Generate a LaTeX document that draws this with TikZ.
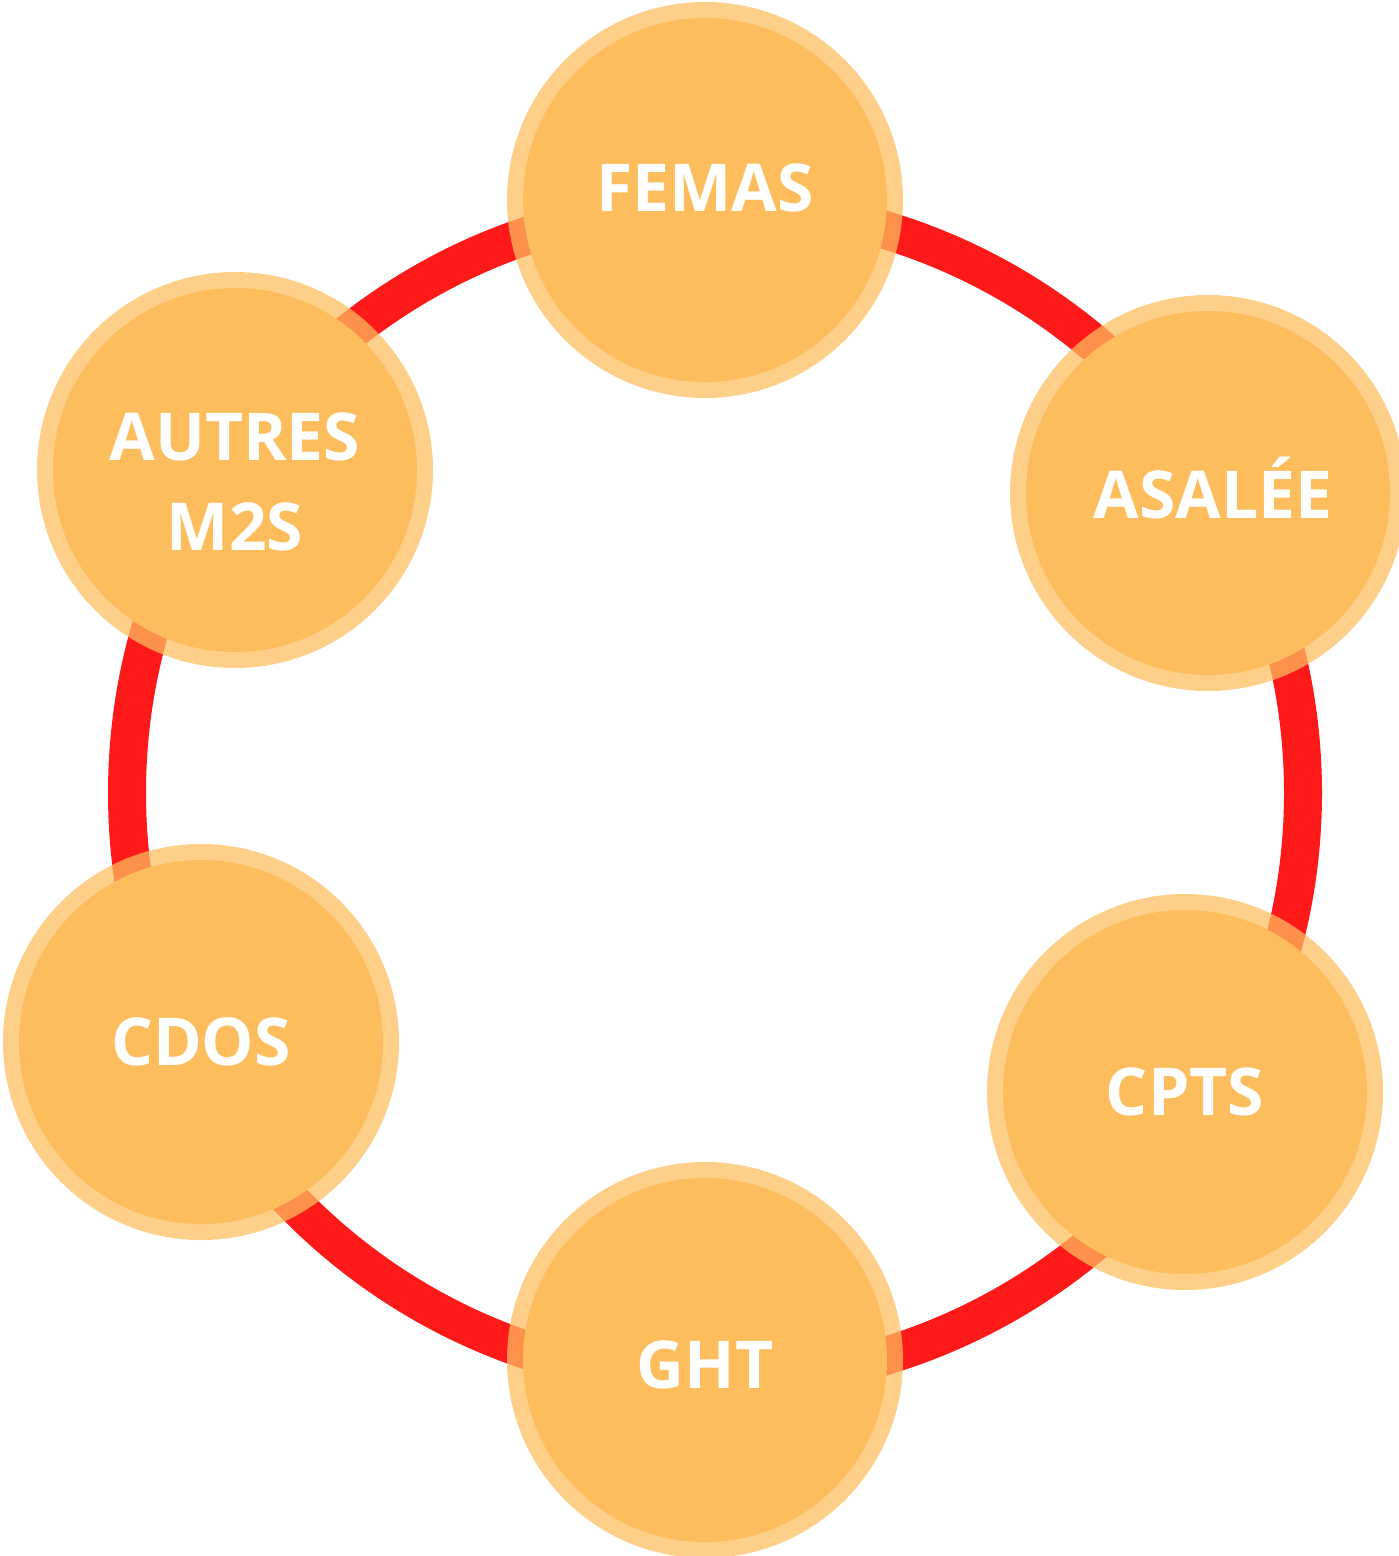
\documentclass[tikz,border=0pt]{standalone}
\usepackage{fontspec}
\setmainfont{Open Sans}
\usepackage{xcolor}
\usetikzlibrary{positioning}
\definecolor{ballfill}{HTML}{FDBD5D}
\definecolor{ringred}{HTML}{FF1A1A}

\begin{document}
\begin{tikzpicture}[x=1pt,y=-1pt,
ball/.style={circle,minimum size=364pt,inner sep=0pt,fill=ballfill,
  draw=ballfill,draw opacity=0.73,line width=32pt},
txt/.style={text=white,font=\fontsize{66}{90}\selectfont\bfseries,align=center},
ring/.style={draw=ringred,line width=38pt}]
\useasboundingbox (0,0) rectangle (1399,1556);

\coordinate (hub) at (715,793);
\draw[ring] (hub) circle (588pt);

\node (femas) at (705,200) [ball,label={[txt,yshift=12pt]center:FEMAS}] {};
\node (asalee) at (1208,493) [ball,label={[txt,xshift=5pt,yshift=5pt]center:ASALÉE}] {};
\node (cpts) at (1185,1092) [ball,label={[txt]center:CPTS}] {};
\node (ght) at (705,1360) [ball,label={[txt,yshift=-5pt]center:GHT}] {};
\node (cdos) at (201,1042) [ball,label={[txt]center:CDOS}] {};
\node (autres) at (235,470) [ball,label={[txt,yshift=-12pt]center:AUTRES\\M2S}] {};

\end{tikzpicture}
\end{document}
